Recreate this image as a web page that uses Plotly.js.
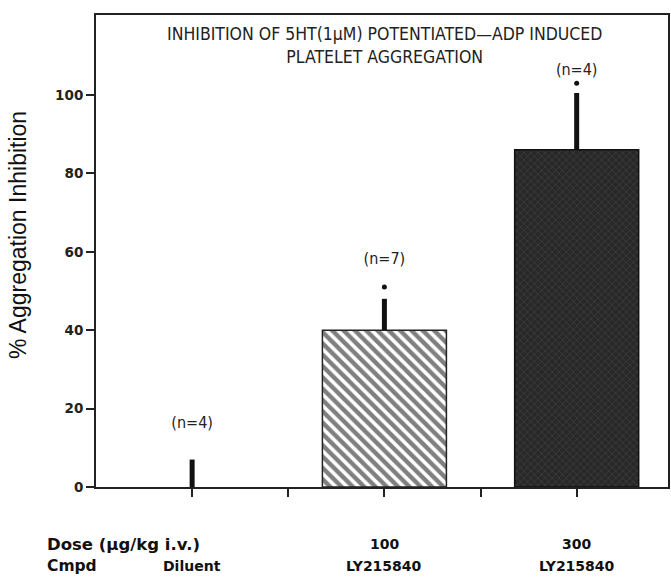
<!DOCTYPE html>
<html><head><meta charset="utf-8">
<script src="https://cdn.plot.ly/plotly-3.0.1.min.js"></script>
<style>body{margin:0;background:#fff}#chart{width:671px;height:580px}</style>
</head><body><div id="chart"></div>
<script>
// Data
const positions = [1, 3, 5];
const doses = ["", "100", "300"];
const compounds = ["Diluent", "LY215840", "LY215840"];
const meanInhibition = [0, 40, 86];
const semUpper = [7, 8, 14.5];
const outlierPoints = [null, 51, 103];
const nLabels = ["(n=4)", "(n=7)", "(n=4)"];
const nLabelY = [16, 58, 106];
const tickPositions = [1, 2, 3, 4, 5];
const yTicks = [0, 20, 40, 60, 80, 100];

const FONT = "Liberation Sans Narrow, DejaVu Sans Condensed, Arial, sans-serif";
const BOLD = "DejaVu Sans, Arial, sans-serif";

const traces = [
  {
    type: "bar", x: [positions[0]], y: [meanInhibition[0]], width: 1.29,
    marker: {color: "rgba(0,0,0,0)", line: {width: 0}},
    error_y: {type: "data", symmetric: false, array: [semUpper[0]], arrayminus: [0], thickness: 5, width: 0, color: "#111"},
    hoverinfo: "skip"
  },
  {
    type: "bar", x: [positions[1]], y: [meanInhibition[1]], width: 1.29,
    marker: {color: "#ffffff", line: {color: "#222", width: 1.5},
      pattern: {shape: "\\", fgcolor: "#000", bgcolor: "#ffffff", size: 8, solidity: 0.55, fillmode: "overlay"}},
    error_y: {type: "data", symmetric: false, array: [semUpper[1]], arrayminus: [0], thickness: 5, width: 0, color: "#111"},
    hoverinfo: "skip"
  },
  {
    type: "bar", x: [positions[2]], y: [meanInhibition[2]], width: 1.29,
    marker: {color: "#2a2a2a", line: {color: "#111", width: 1.5},
      pattern: {shape: "x", fgcolor: "#7a7a7a", bgcolor: "#282828", size: 5, solidity: 0.15, fillmode: "overlay"}},
    error_y: {type: "data", symmetric: false, array: [semUpper[2]], arrayminus: [0], thickness: 5, width: 0, color: "#111"},
    hoverinfo: "skip"
  },
  {
    type: "scatter", mode: "markers", x: positions, y: outlierPoints,
    marker: {color: "#111", size: 5}, hoverinfo: "skip"
  },
  {
    type: "scatter", mode: "text", x: positions, y: nLabelY, text: nLabels,
    textfont: {family: FONT, size: 16, color: "#222"}, hoverinfo: "skip"
  }
];

const annotations = [
  {xref: "x", yref: "paper", x: 3, y: 1, yshift: -7, yanchor: "top", showarrow: false,
   text: "INHIBITION OF 5HT(1μM) POTENTIATED—ADP INDUCED<br>PLATELET AGGREGATION",
   font: {family: FONT, size: 17.5, color: "#222"}},
  {xref: "paper", yref: "paper", x: 0, xshift: -78, xanchor: "center", y: 0.534, yanchor: "middle", textangle: -90, showarrow: false,
   text: "% Aggregation Inhibition", font: {family: "Liberation Sans, Arial, sans-serif", size: 23, color: "#111"}},
  {xref: "paper", yref: "paper", x: 0, xshift: -51, xanchor: "left", y: 0, yanchor: "middle", yshift: -57, showarrow: false,
   text: "<b>Dose (μg/kg i.v.)</b>", font: {family: BOLD, size: 16.5, color: "#111"}},
  {xref: "paper", yref: "paper", x: 0, xshift: -51, xanchor: "left", y: 0, yanchor: "middle", yshift: -79, showarrow: false,
   text: "<b>Cmpd</b>", font: {family: BOLD, size: 15.5, color: "#111"}}
];
positions.forEach((p, i) => {
  if (doses[i]) annotations.push({xref: "x", yref: "paper", x: p, y: 0, yanchor: "middle", yshift: -57, showarrow: false,
    text: "<b>" + doses[i] + "</b>", font: {family: BOLD, size: 14, color: "#111"}});
  annotations.push({xref: "x", yref: "paper", x: p, y: 0, yanchor: "middle", yshift: -79, showarrow: false,
    text: "<b>" + compounds[i] + "</b>", font: {family: BOLD, size: 14, color: "#111"}});
});

const layout = {
  width: 671, height: 580,
  margin: {l: 96, r: 3, t: 15, b: 93},
  paper_bgcolor: "#fff", plot_bgcolor: "#fff",
  showlegend: false,
  barmode: "overlay",
  xaxis: {range: [0, 5.95], tickvals: tickPositions, ticktext: ["", "", "", "", ""],
    ticks: "outside", ticklen: 8, tickwidth: 2, tickcolor: "#222",
    showline: true, linecolor: "#222", linewidth: 2, mirror: true, showgrid: false, zeroline: false},
  yaxis: {range: [0, 120.4], tickvals: yTicks, ticks: "outside", ticklen: 8, tickwidth: 2, tickcolor: "#222",
    showline: true, linecolor: "#222", linewidth: 2, mirror: true, showgrid: false, zeroline: false,
    tickfont: {family: "DejaVu Sans, Arial, sans-serif", size: 13.5, weight: "bold", color: "#222"}},
  annotations: annotations
};

Plotly.newPlot("chart", traces, layout, {displayModeBar: false, staticPlot: true});
</script>
</body></html>
